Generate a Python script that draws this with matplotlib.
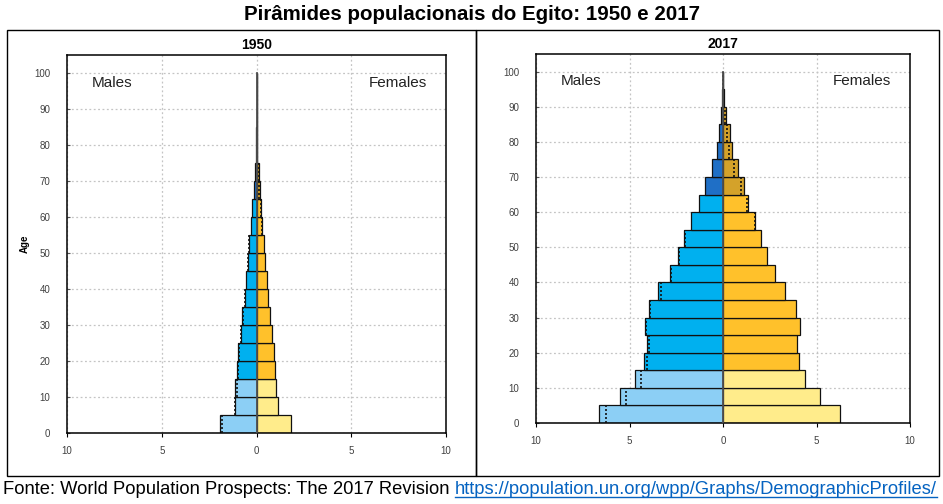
import matplotlib
matplotlib.use('Agg')
import matplotlib.pyplot as plt
from matplotlib.patches import Rectangle
from matplotlib.lines import Line2D

# ---------------- data ----------------
age_starts = [0, 5, 10, 15, 20, 25, 30, 35, 40, 45, 50, 55, 60, 65, 70, 75, 80, 85, 90, 95]

male_1950 = [1.91, 1.16, 1.11, 1.04, 0.96, 0.84, 0.75, 0.63, 0.53, 0.46, 0.39, 0.28, 0.23,
             0.14, 0.09, 0.04, 0.01, 0.0, 0.0, 0.0]
female_1950 = [1.81, 1.12, 1.05, 1.00, 0.93, 0.82, 0.72, 0.61, 0.53, 0.44, 0.37, 0.30, 0.26,
               0.21, 0.12, 0.05, 0.02, 0.0, 0.0, 0.0]

male_2017 = [6.65, 5.49, 4.73, 4.25, 4.09, 4.19, 3.98, 3.45, 2.85, 2.39, 2.07, 1.70, 1.31,
             0.97, 0.58, 0.32, 0.21, 0.12, 0.03, 0.004]
female_2017 = [6.27, 5.17, 4.41, 4.07, 3.96, 4.14, 3.89, 3.33, 2.78, 2.37, 2.05, 1.73, 1.35,
               1.12, 0.80, 0.50, 0.35, 0.15, 0.04, 0.006]

x_ticks = [-10, -5, 0, 5, 10]
x_ticklabels = ['10', '5', '0', '5', '10']
y_ticks = list(range(0, 101, 10))

main_title = 'Pirâmides populacionais do Egito: 1950 e 2017'
footer_text = 'Fonte: World Population Prospects: The 2017 Revision '
footer_link = 'https://population.un.org/wpp/Graphs/DemographicProfiles/'

# ---------------- style ----------------
M_COLORS = ['#8ccff5', '#00b0ef', '#1f6fc6']
F_COLORS = ['#ffec8b', '#ffc12b', '#d4a22a']

plt.rcParams['font.family'] = ['Liberation Sans', 'DejaVu Sans']

W, H = 943, 504
fig = plt.figure(figsize=(W / 100, H / 100), dpi=100)


def fx(px):
    return px / W


def fy(py):
    return 1 - py / H


def color_idx(a):
    if a < 15:
        return 0
    if a < 65:
        return 1
    return 2


def draw_pyramid(ax, males, females, title, ylabel):
    ax.set_xlim(-10, 10)
    ax.set_ylim(0, 105)
    ax.set_axisbelow(True)
    ax.grid(True, linestyle=(0, (1.5, 2)), color='#c4c4c4', linewidth=0.9)
    mc = [M_COLORS[color_idx(a)] for a in age_starts]
    fc = [F_COLORS[color_idx(a)] for a in age_starts]
    mv = [-m for m in males]
    ax.barh(age_starts, mv, height=5, align='edge', color=mc, edgecolor='#111111',
            linewidth=0.9, zorder=2)
    ax.barh(age_starts, females, height=5, align='edge', color=fc, edgecolor='#111111',
            linewidth=0.9, zorder=2)
    for a, m, f in zip(age_starts, males, females):
        if m <= 0 and f <= 0:
            continue
        if f < m:
            ax.plot([-f, -f], [a, a + 5], linestyle=(0, (1.2, 1.2)), color='#111111',
                    linewidth=1.2, zorder=3)
        elif m < f:
            ax.plot([m, m], [a, a + 5], linestyle=(0, (1.2, 1.2)), color='#111111',
                    linewidth=1.2, zorder=3)
    ax.plot([0, 0], [0, 100], color='#505050', linewidth=1.3, zorder=4)

    ax.set_xticks(x_ticks)
    ax.set_xticklabels(x_ticklabels)
    ax.set_yticks(y_ticks)
    ax.tick_params(axis='x', direction='out', length=3, width=0.8, pad=6,
                   labelsize=7, labelcolor='#404040')
    ax.tick_params(axis='y', direction='in', length=2, width=0.8, pad=12,
                   labelsize=7, labelcolor='#404040', color='#555555')
    for s in ax.spines.values():
        s.set_color('black')
        s.set_linewidth(1.1)
    ax.set_title(title, fontsize=10, fontweight='bold', pad=4)
    ax.text(-8.7, 97.3, 'Males', fontsize=11, ha='left', va='center', color='#222222')
    ax.text(9.0, 97.3, 'Females', fontsize=11, ha='right', va='center', color='#222222')
    if ylabel:
        ax.set_ylabel(ylabel, fontsize=7, fontweight='bold')
        ax.yaxis.set_label_coords(-0.098, 0.5)


ax1 = fig.add_axes([fx(67), fy(433), fx(446 - 67), (433 - 55) / H])
draw_pyramid(ax1, male_1950, female_1950, '1950', 'Age')

ax2 = fig.add_axes([fx(536), fy(423), fx(910 - 536), (423 - 54) / H])
draw_pyramid(ax2, male_2017, female_2017, '2017', None)

# panel borders
fig.add_artist(Rectangle((fx(6.5), fy(476)), fx(476 - 6.5), (476 - 30) / H,
                         transform=fig.transFigure, fill=False, ec='black', lw=1.0))
fig.add_artist(Rectangle((fx(476), fy(476)), fx(939 - 476), (476 - 30) / H,
                         transform=fig.transFigure, fill=False, ec='black', lw=1.0))

# main title
fig.text(fx(472), fy(15), main_title, ha='center', va='center', fontsize=14.8,
         fontweight='bold', color='black')

# footer
fig.canvas.draw()
renderer = fig.canvas.get_renderer()
t1 = fig.text(fx(3), fy(490), footer_text, ha='left', va='center', fontsize=13.2,
              color='black')
bb = t1.get_window_extent(renderer)
t2 = fig.text(bb.x1 / W, fy(490), footer_link, ha='left', va='center', fontsize=13.2,
              color='#0563c1')
bb2 = t2.get_window_extent(renderer)
fig.add_artist(Line2D([bb2.x0 / W, bb2.x1 / W], [bb2.y0 / H + 1.5 / H] * 2,
                      transform=fig.transFigure, color='#0563c1', lw=1))

fig.savefig('out.png', dpi=100)
